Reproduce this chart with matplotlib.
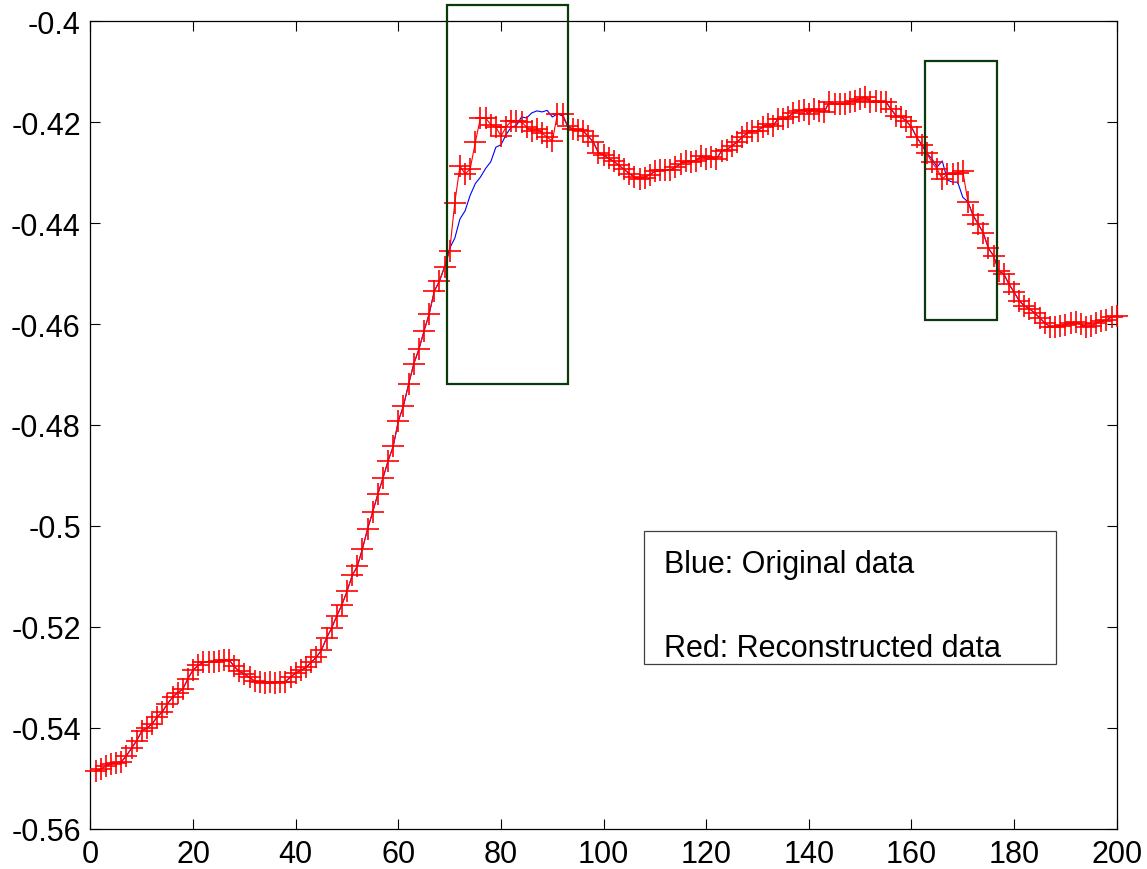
import numpy as np
import matplotlib
matplotlib.use("Agg")
import matplotlib.pyplot as plt
from matplotlib.patches import Rectangle

plt.rcParams["font.family"] = ["Liberation Sans", "DejaVu Sans"]
plt.rcParams["axes.unicode_minus"] = False

# sample index
x = np.arange(1, 201)

# original signal, samples 1..200
original = np.array([
    -0.5485, -0.5482, -0.5475, -0.5471, -0.5469, -0.5467, -0.5455, -0.5440, -0.5425, -0.5406,
    -0.5400, -0.5392, -0.5378, -0.5368, -0.5352, -0.5339, -0.5330, -0.5323, -0.5302, -0.5285,
    -0.5276, -0.5270, -0.5269, -0.5269, -0.5268, -0.5266, -0.5265, -0.5278, -0.5288, -0.5293,
    -0.5300, -0.5307, -0.5309, -0.5310, -0.5309, -0.5310, -0.5309, -0.5308, -0.5299, -0.5291,
    -0.5286, -0.5280, -0.5270, -0.5260, -0.5246, -0.5222, -0.5202, -0.5178, -0.5156, -0.5129,
    -0.5098, -0.5080, -0.5045, -0.5006, -0.4972, -0.4937, -0.4905, -0.4871, -0.4842, -0.4792,
    -0.4762, -0.4719, -0.4679, -0.4650, -0.4614, -0.4580, -0.4535, -0.4515, -0.4487, -0.4450,
    -0.4430, -0.4392, -0.4376, -0.4345, -0.4322, -0.4309, -0.4292, -0.4279, -0.4250, -0.4245,
    -0.4225, -0.4210, -0.4207, -0.4190, -0.4192, -0.4182, -0.4178, -0.4180, -0.4177, -0.4190,
    -0.4184, -0.4188, -0.4208, -0.4214, -0.4215, -0.4218, -0.4228, -0.4240, -0.4261, -0.4265,
    -0.4272, -0.4278, -0.4286, -0.4294, -0.4302, -0.4309, -0.4313, -0.4310, -0.4304, -0.4298,
    -0.4296, -0.4295, -0.4295, -0.4289, -0.4283, -0.4278, -0.4279, -0.4277, -0.4267, -0.4273,
    -0.4269, -0.4273, -0.4257, -0.4255, -0.4247, -0.4240, -0.4230, -0.4222, -0.4218, -0.4217,
    -0.4210, -0.4204, -0.4208, -0.4194, -0.4194, -0.4190, -0.4182, -0.4178, -0.4176, -0.4184,
    -0.4174, -0.4178, -0.4180, -0.4160, -0.4164, -0.4164, -0.4164, -0.4160, -0.4158, -0.4154,
    -0.4150, -0.4160, -0.4158, -0.4160, -0.4160, -0.4174, -0.4188, -0.4190, -0.4198, -0.4210,
    -0.4230, -0.4245, -0.4262, -0.4273, -0.4289, -0.4277, -0.4315, -0.4319, -0.4319, -0.4349,
    -0.4358, -0.4385, -0.4402, -0.4420, -0.4450, -0.4465, -0.4495, -0.4501, -0.4521, -0.4537,
    -0.4554, -0.4564, -0.4570, -0.4578, -0.4588, -0.4598, -0.4605, -0.4606, -0.4604, -0.4601,
    -0.4598, -0.4596, -0.4600, -0.4606, -0.4604, -0.4598, -0.4595, -0.4592, -0.4586, -0.4584,
])

# reconstructed values inside the two gaps (samples 70..92 and 164..170)
gap1_start = 70
recon_gap1 = [
    -0.4455, -0.4360, -0.4287, -0.4303, -0.4293, -0.4240, -0.4192, -0.4192, -0.4205, -0.4210,
    -0.4228, -0.4210, -0.4198, -0.4198, -0.4200, -0.4210, -0.4218, -0.4214, -0.4222, -0.4230,
    -0.4238, -0.4184, -0.4184,
]
gap2_start = 164
recon_gap2 = [-0.4280, -0.4293, -0.4313, -0.4303, -0.4303, -0.4300, -0.4297]

reconstructed = original.copy()
reconstructed[gap1_start - 1:gap1_start - 1 + len(recon_gap1)] = recon_gap1
reconstructed[gap2_start - 1:gap2_start - 1 + len(recon_gap2)] = recon_gap2

# highlighted windows: (x0, x1, y0, y1)
box_a = (69.56, 92.98, -0.47188, -0.39683)
box_b = (162.6, 176.7, -0.45921, -0.40792)

xticks = [0, 20, 40, 60, 80, 100, 120, 140, 160, 180, 200]
yticks = [-0.56, -0.54, -0.52, -0.5, -0.48, -0.46, -0.44, -0.42, -0.4]
ytick_labels = ["-0.56", "-0.54", "-0.52", "-0.5", "-0.48", "-0.46", "-0.44", "-0.42", "-0.4"]

fig = plt.figure(figsize=(11.47, 8.70), dpi=100)
ax = fig.add_axes([0.0789, 0.04598, 0.8947, 0.92873])

ax.plot(x, original, color="#0000ff", lw=0.8, zorder=2)
ax.plot(x, reconstructed, color="#ff0000", lw=0.8, marker="+", ms=16, mew=1.2,
        zorder=3, clip_on=False)

green = "#0a3a0a"
for (x0, x1, y0, y1) in (box_a, box_b):
    ax.add_patch(Rectangle((x0, y0), x1 - x0, y1 - y0, fill=False,
                           edgecolor=green, lw=1.6, zorder=4, clip_on=False))

# annotation box
ax.add_patch(Rectangle((107.8, -0.52733), 80.4, 0.02634, fill=False,
                       edgecolor="#404040", lw=0.9, zorder=4))
ax.text(111.7, -0.50917, "Blue: Original data", fontsize=22, va="baseline", ha="left", zorder=5)
ax.text(111.7, -0.52568, "Red: Reconstructed data", fontsize=22, va="baseline", ha="left", zorder=5)

ax.set_xlim(0, 200)
ax.set_ylim(-0.56, -0.4)
ax.set_xticks(xticks)
ax.set_xticklabels([str(t) for t in xticks])
ax.set_yticks(yticks)
ax.set_yticklabels(ytick_labels)
ax.tick_params(direction="in", length=7, width=0.8, labelsize=22, top=True, right=True,
               pad=7)
for s in ax.spines.values():
    s.set_linewidth(0.9)

fig.savefig("out.png", dpi=100)
